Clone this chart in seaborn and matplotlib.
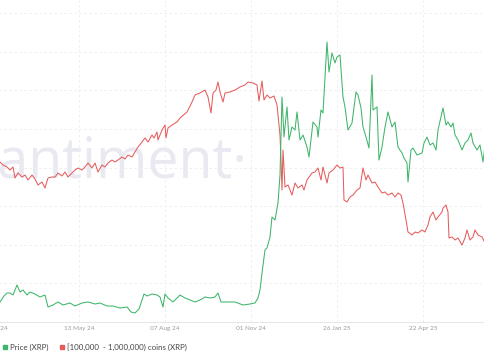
import pandas as pd
import matplotlib
matplotlib.use("Agg")
import matplotlib.pyplot as plt
import matplotlib.dates as mdates
from matplotlib.lines import Line2D
import seaborn as sns

# ---- data ----
price_dates = [
    "2024-02-24", "2024-02-28", "2024-03-02", "2024-03-05", "2024-03-08", "2024-03-12", "2024-03-15",
    "2024-03-18", "2024-03-22", "2024-03-25", "2024-03-30", "2024-04-04", "2024-04-09", "2024-04-12",
    "2024-04-17", "2024-04-22", "2024-04-27", "2024-05-04", "2024-05-09", "2024-05-16", "2024-05-22",
    "2024-05-29", "2024-06-03", "2024-06-10", "2024-06-16", "2024-06-23", "2024-06-30", "2024-07-04",
    "2024-07-08", "2024-07-12", "2024-07-15", "2024-07-17", "2024-07-20", "2024-07-25", "2024-07-30",
    "2024-08-02", "2024-08-05", "2024-08-07", "2024-08-10", "2024-08-15", "2024-08-22", "2024-08-27",
    "2024-09-01", "2024-09-06", "2024-09-11", "2024-09-16", "2024-09-21", "2024-09-26", "2024-09-29",
    "2024-10-02", "2024-10-09", "2024-10-16", "2024-10-24", "2024-10-31", "2024-11-05", "2024-11-08",
    "2024-11-10", "2024-11-12", "2024-11-15", "2024-11-17", "2024-11-20", "2024-11-22", "2024-11-25",
    "2024-11-28", "2024-11-30", "2024-12-02", "2024-12-04", "2024-12-07", "2024-12-09", "2024-12-12",
    "2024-12-15", "2024-12-17", "2024-12-20", "2024-12-23", "2024-12-27", "2024-12-29", "2025-01-02",
    "2025-01-06", "2025-01-07", "2025-01-10", "2025-01-12", "2025-01-16", "2025-01-18", "2025-01-21",
    "2025-01-24", "2025-01-26", "2025-01-29", "2025-02-01", "2025-02-03", "2025-02-06", "2025-02-10",
    "2025-02-14", "2025-02-16", "2025-02-19", "2025-02-21", "2025-02-24", "2025-02-27", "2025-03-02",
    "2025-03-03", "2025-03-07", "2025-03-09", "2025-03-12", "2025-03-15", "2025-03-18", "2025-03-22",
    "2025-03-25", "2025-03-28", "2025-04-01", "2025-04-03", "2025-04-06", "2025-04-07", "2025-04-10",
    "2025-04-12", "2025-04-16", "2025-04-21", "2025-04-23", "2025-04-26", "2025-04-29", "2025-05-02",
    "2025-05-05", "2025-05-07", "2025-05-10", "2025-05-12", "2025-05-15", "2025-05-17", "2025-05-20",
    "2025-05-22", "2025-05-24", "2025-05-27", "2025-05-31", "2025-06-03", "2025-06-06", "2025-06-09",
    "2025-06-11", "2025-06-15", "2025-06-18", "2025-06-21", "2025-06-23",
]
price_usd = [
    0.50, 0.56, 0.59, 0.59, 0.57, 0.67, 0.60,
    0.62, 0.57, 0.60, 0.58, 0.55, 0.57, 0.45,
    0.47, 0.50, 0.47, 0.49, 0.46, 0.49, 0.50,
    0.48, 0.49, 0.46, 0.46, 0.44, 0.45, 0.40,
    0.39, 0.43, 0.52, 0.58, 0.56, 0.58, 0.57,
    0.55, 0.45, 0.58, 0.54, 0.50, 0.57, 0.54,
    0.52, 0.50, 0.52, 0.55, 0.54, 0.55, 0.59,
    0.50, 0.50, 0.50, 0.47, 0.48, 0.49, 0.54,
    0.62, 0.79, 1.02, 1.04, 1.15, 1.35, 1.32,
    1.49, 1.77, 2.55, 2.15, 2.45, 2.12, 2.25,
    2.22, 2.40, 2.12, 2.17, 2.05, 1.95, 2.30,
    2.25, 2.15, 2.42, 2.39, 3.10, 2.80, 2.99,
    2.89, 2.95, 2.97, 2.55, 2.45, 2.22, 2.29,
    2.60, 2.57, 2.44, 2.25, 2.15, 2.04, 2.77,
    2.42, 2.45, 1.92, 2.05, 2.25, 2.40, 2.25,
    2.30, 2.05, 1.99, 1.94, 1.89, 1.70, 2.02,
    2.04, 1.97, 1.99, 2.09, 2.15, 2.07, 2.09,
    2.02, 2.22, 2.35, 2.44, 2.27, 2.30, 2.25,
    2.29, 2.17, 2.12, 2.02, 2.09, 2.12, 2.19,
    2.09, 2.02, 2.07, 1.90, 2.07,
]

holder_dates = [
    "2024-02-24", "2024-02-27", "2024-03-02", "2024-03-05", "2024-03-08", "2024-03-10", "2024-03-13",
    "2024-03-17", "2024-03-20", "2024-03-23", "2024-03-27", "2024-03-30", "2024-04-02", "2024-04-06",
    "2024-04-09", "2024-04-12", "2024-04-16", "2024-04-19", "2024-04-22", "2024-04-26", "2024-04-29",
    "2024-05-02", "2024-05-06", "2024-05-09", "2024-05-12", "2024-05-16", "2024-05-19", "2024-05-22",
    "2024-05-26", "2024-05-29", "2024-06-01", "2024-06-05", "2024-06-08", "2024-06-11", "2024-06-15",
    "2024-06-18", "2024-06-21", "2024-06-25", "2024-06-28", "2024-07-01", "2024-07-05", "2024-07-08",
    "2024-07-11", "2024-07-15", "2024-07-18", "2024-07-21", "2024-07-25", "2024-07-27", "2024-07-30",
    "2024-07-31", "2024-08-04", "2024-08-07", "2024-08-08", "2024-08-10", "2024-08-14", "2024-08-19",
    "2024-08-22", "2024-08-29", "2024-09-03", "2024-09-06", "2024-09-11", "2024-09-16", "2024-09-19",
    "2024-09-22", "2024-09-24", "2024-09-27", "2024-09-29", "2024-10-01", "2024-10-04", "2024-10-06",
    "2024-10-11", "2024-10-16", "2024-10-21", "2024-10-26", "2024-10-29", "2024-11-03", "2024-11-07",
    "2024-11-09", "2024-11-12", "2024-11-14", "2024-11-17", "2024-11-20", "2024-11-24", "2024-11-27",
    "2024-11-28", "2024-11-30", "2024-12-01", "2024-12-02", "2024-12-03", "2024-12-05", "2024-12-08",
    "2024-12-12", "2024-12-15", "2024-12-18", "2024-12-22", "2024-12-24", "2024-12-27", "2025-01-01",
    "2025-01-04", "2025-01-07", "2025-01-10", "2025-01-12", "2025-01-16", "2025-01-18", "2025-01-22",
    "2025-01-26", "2025-01-29", "2025-02-01", "2025-02-02", "2025-02-05", "2025-02-08", "2025-02-11",
    "2025-02-15", "2025-02-18", "2025-02-21", "2025-02-24", "2025-02-26", "2025-03-02", "2025-03-05",
    "2025-03-08", "2025-03-12", "2025-03-15", "2025-03-18", "2025-03-22", "2025-03-25", "2025-03-28",
    "2025-03-31", "2025-04-02", "2025-04-05", "2025-04-07", "2025-04-11", "2025-04-14", "2025-04-17",
    "2025-04-21", "2025-04-24", "2025-04-27", "2025-04-29", "2025-05-02", "2025-05-05", "2025-05-07",
    "2025-05-11", "2025-05-12", "2025-05-15", "2025-05-17", "2025-05-18", "2025-05-21", "2025-05-24",
    "2025-05-27", "2025-05-31", "2025-06-03", "2025-06-05", "2025-06-08", "2025-06-11", "2025-06-13",
    "2025-06-16", "2025-06-20", "2025-06-23",
]
# supply held by 100k-1M XRP wallets, billions of coins
holder_supply = [
    3.60, 3.57, 3.55, 3.52, 3.55, 3.44, 3.49,
    3.45, 3.47, 3.42, 3.47, 3.43, 3.37, 3.40,
    3.34, 3.44, 3.45, 3.45, 3.49, 3.46, 3.50,
    3.45, 3.49, 3.52, 3.54, 3.52, 3.55, 3.59,
    3.54, 3.59, 3.50, 3.57, 3.55, 3.59, 3.62,
    3.60, 3.62, 3.65, 3.63, 3.67, 3.65, 3.70,
    3.75, 3.80, 3.84, 3.80, 3.87, 3.84, 3.90,
    3.82, 3.92, 3.97, 3.84, 3.94, 3.97, 4.00,
    4.04, 4.10, 4.20, 4.27, 4.29, 4.32, 4.25,
    4.09, 4.29, 4.32, 4.40, 4.30, 4.20, 4.29,
    4.30, 4.32, 4.35, 4.37, 4.40, 4.39, 4.37,
    4.21, 4.41, 4.22, 4.27, 4.24, 4.26, 4.17,
    4.07, 3.87, 3.62, 3.32, 3.72, 3.35, 3.37,
    3.27, 3.39, 3.34, 3.37, 3.32, 3.42, 3.49,
    3.50, 3.54, 3.42, 3.55, 3.39, 3.49, 3.52,
    3.57, 3.54, 3.55, 3.22, 3.20, 3.25, 3.27,
    3.32, 3.34, 3.54, 3.42, 3.47, 3.39, 3.40,
    3.35, 3.29, 3.30, 3.27, 3.29, 3.25, 3.29,
    3.27, 3.19, 3.02, 2.90, 2.87, 2.90, 2.89,
    2.92, 2.90, 2.97, 3.05, 3.10, 3.02, 3.05,
    3.10, 3.14, 3.17, 3.10, 2.84, 2.85, 2.82,
    2.84, 2.77, 2.84, 2.92, 2.82, 2.85, 2.92,
    2.87, 2.85, 2.79,
]

tick_dates = ["2024-02-17", "2024-05-13", "2024-08-07", "2024-11-01", "2025-01-26", "2025-04-22"]
series_names = ["Price (XRP)", "[100,000  - 1,000,000) coins (XRP)"]

GREEN = "#3db56a"
RED = "#e65c5c"

price = pd.DataFrame({"date": pd.to_datetime(price_dates), "value": price_usd})
holders = pd.DataFrame({"date": pd.to_datetime(holder_dates), "value": holder_supply})

sns.set_style("white")
plt.rcParams["font.family"] = ["Lato", "DejaVu Sans"]

W, H = 485, 360
fig = plt.figure(figsize=(W / 100, H / 100), dpi=100)
pad_left = 20
ax = fig.add_axes([-pad_left / W, 38 / H, (W + pad_left) / W, 322 / H])
ax.set_xlim(pd.Timestamp("2024-02-04"), pd.Timestamp("2025-06-23"))

# grid on the base axis (8 equal bands, a bit of headroom on top)
ax.set_ylim(0, 322 / 38.6)
ax.set_yticks(range(0, 9))
ax.set_yticklabels([])
ax.grid(True, color="#ececec", linestyle=(0, (3, 3)), linewidth=0.6)
ax.set_xticks(pd.to_datetime(tick_dates))
ax.xaxis.set_major_formatter(mdates.DateFormatter("%d %b %y"))
ax.tick_params(axis="x", length=0, pad=3, labelsize=4.6, labelcolor="#9a9a9a")
ax.tick_params(axis="y", length=0)
for s in ["top", "left", "right"]:
    ax.spines[s].set_visible(False)
ax.spines["bottom"].set_color("#e2e2e2")
ax.spines["bottom"].set_linewidth(0.6)

# watermark, cut by the left edge like in the screenshot
ax.text(-29 / W, (H - 178) / H, "santiment\u00b7", transform=fig.transFigure,
        fontsize=40, color="#e8e9f1", family="Open Sans", va="baseline", ha="left", zorder=0)

ax_h = ax.twinx()
ax_p = ax.twinx()
sns.lineplot(data=holders, x="date", y="value", ax=ax_h, color=RED, linewidth=0.75)
sns.lineplot(data=price, x="date", y="value", ax=ax_p, color=GREEN, linewidth=0.75)
ax_h.set_ylim(2.00, 5.22)
ax_p.set_ylim(0.30, 3.52)
for a in (ax_h, ax_p):
    a.set_axis_off()
    a.set_xlim(ax.get_xlim())

handles = [Line2D([], [], marker="s", linestyle="none", markersize=3.2, color=GREEN),
           Line2D([], [], marker="s", linestyle="none", markersize=3.2, color=RED)]
fig.legend(handles, series_names, loc="center left", bbox_to_anchor=(-0.004, 13 / H),
           frameon=False, ncol=2, fontsize=5.7, handletextpad=0.1, columnspacing=1.2,
           labelcolor="#444444", handlelength=1.0, borderaxespad=0)

fig.savefig("out.png", dpi=100)
